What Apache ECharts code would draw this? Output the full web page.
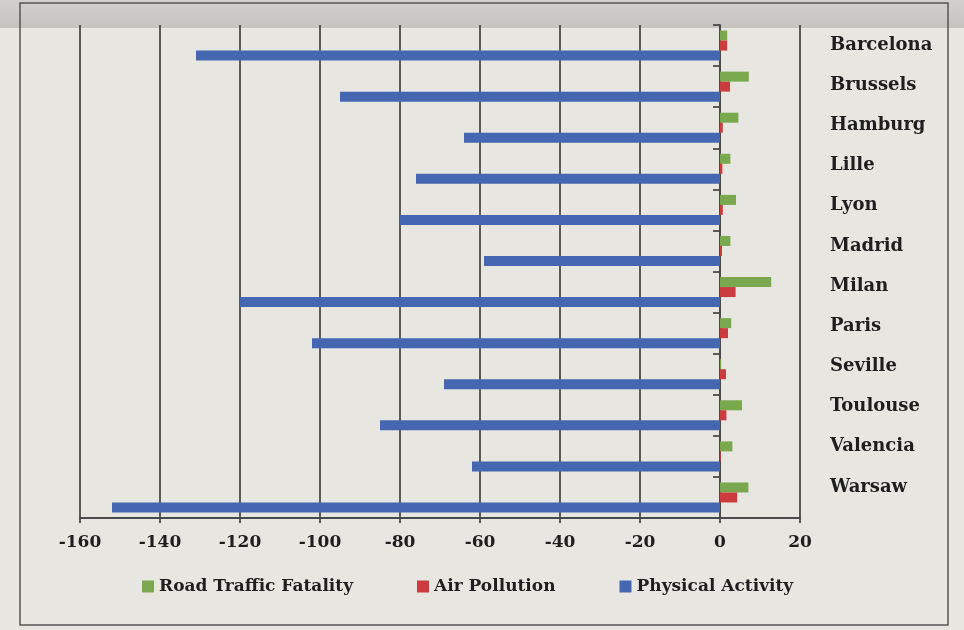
<!DOCTYPE html>
<html>
<head>
<meta charset="utf-8">
<script src="https://cdn.jsdelivr.net/npm/echarts@6/dist/echarts.min.js"></script>
<style>
html,body{margin:0;padding:0;background:#e7e6e1;}
#chart{width:964px;height:630px;}
</style>
</head>
<body>
<div id="chart"></div>
<script>
const cities = ["Barcelona","Brussels","Hamburg","Lille","Lyon","Madrid","Milan","Paris","Seville","Toulouse","Valencia","Warsaw"];
const roadTrafficFatality = [1.8, 7.2, 4.6, 2.6, 4.0, 2.6, 12.8, 2.8, 0.3, 5.5, 3.1, 7.1];
const airPollution = [1.8, 2.5, 0.7, 0.6, 0.7, 0.5, 3.9, 2.0, 1.5, 1.6, 0.2, 4.3];
const physicalActivity = [-131, -95, -64, -76, -80, -59, -120, -102, -69, -85, -62, -152];
const xTicks = {min: -160, max: 20, interval: 20};
const seriesNames = ["Road Traffic Fatality", "Air Pollution", "Physical Activity"];
const colors = ["#7aa84e", "#cc3b3d", "#4567b2"];

const font = "DejaVu Serif";
const chart = echarts.init(document.getElementById('chart'), null, {renderer: 'canvas'});
const seriesData = [roadTrafficFatality, airPollution, physicalActivity];

chart.setOption({
  backgroundColor: '#e7e6e1',
  animation: false,
  graphic: [
    {type: 'rect', shape: {x: 0, y: 0, width: 964, height: 28},
     style: {fill: new echarts.graphic.LinearGradient(0,0,0,1,[{offset:0,color:'#d2d1cd'},{offset:1,color:'#c4c3bf'}])}, z: -1},
    {type: 'rect', shape: {x: 20, y: 3, width: 928, height: 622},
     style: {fill: 'none', stroke: '#555', lineWidth: 1.5}, z: 0}
  ],
  grid: [
    {left: 80, width: 720, top: 25, bottom: 112},
    {left: 780, width: 20, top: 25, height: 482}
  ],
  legend: {
    data: seriesNames,
    left: 137, top: 573,
    icon: 'rect', itemWidth: 12, itemHeight: 12, itemGap: 64,
    textStyle: {fontFamily: font, fontSize: 17, fontWeight: 'bold', color: '#1e1e1e'}
  },
  xAxis: [
    {type: 'value', gridIndex: 0, min: xTicks.min, max: xTicks.max, interval: xTicks.interval,
     axisLine: {show: true, lineStyle: {color: '#4a4a4a', width: 1.8}},
     axisTick: {show: true, length: 5, lineStyle: {color: '#4a4a4a', width: 1.8}},
     splitLine: {show: true, lineStyle: {color: '#4a4a4a', width: 1.8}},
     axisLabel: {fontFamily: font, fontSize: 17, fontWeight: 'bold', color: '#1e1e1e', margin: 16}},
    {type: 'value', gridIndex: 1, show: false}
  ],
  yAxis: [
    {type: 'category', gridIndex: 0, data: cities, inverse: true,
     axisLine: {show: true, onZero: true, lineStyle: {color: '#4a4a4a', width: 1.8}},
     axisTick: {show: true, length: 7, lineStyle: {color: '#4a4a4a', width: 1.8}},
     axisLabel: {show: false},
     splitLine: {show: false}},
    {type: 'category', gridIndex: 1, data: cities, inverse: true, position: 'right',
     axisLine: {show: false}, axisTick: {show: false},
     axisLabel: {show: true, margin: 30, fontFamily: font, fontSize: 18, fontWeight: 'bold', color: '#1e1e1e'}}
  ],
  series: seriesNames.map((name, i) => ({
    name: name, type: 'bar', xAxisIndex: 0, yAxisIndex: 0,
    data: seriesData[i], barWidth: 10, barGap: '0%',
    itemStyle: {color: colors[i]}
  }))
});
</script>
</body>
</html>
